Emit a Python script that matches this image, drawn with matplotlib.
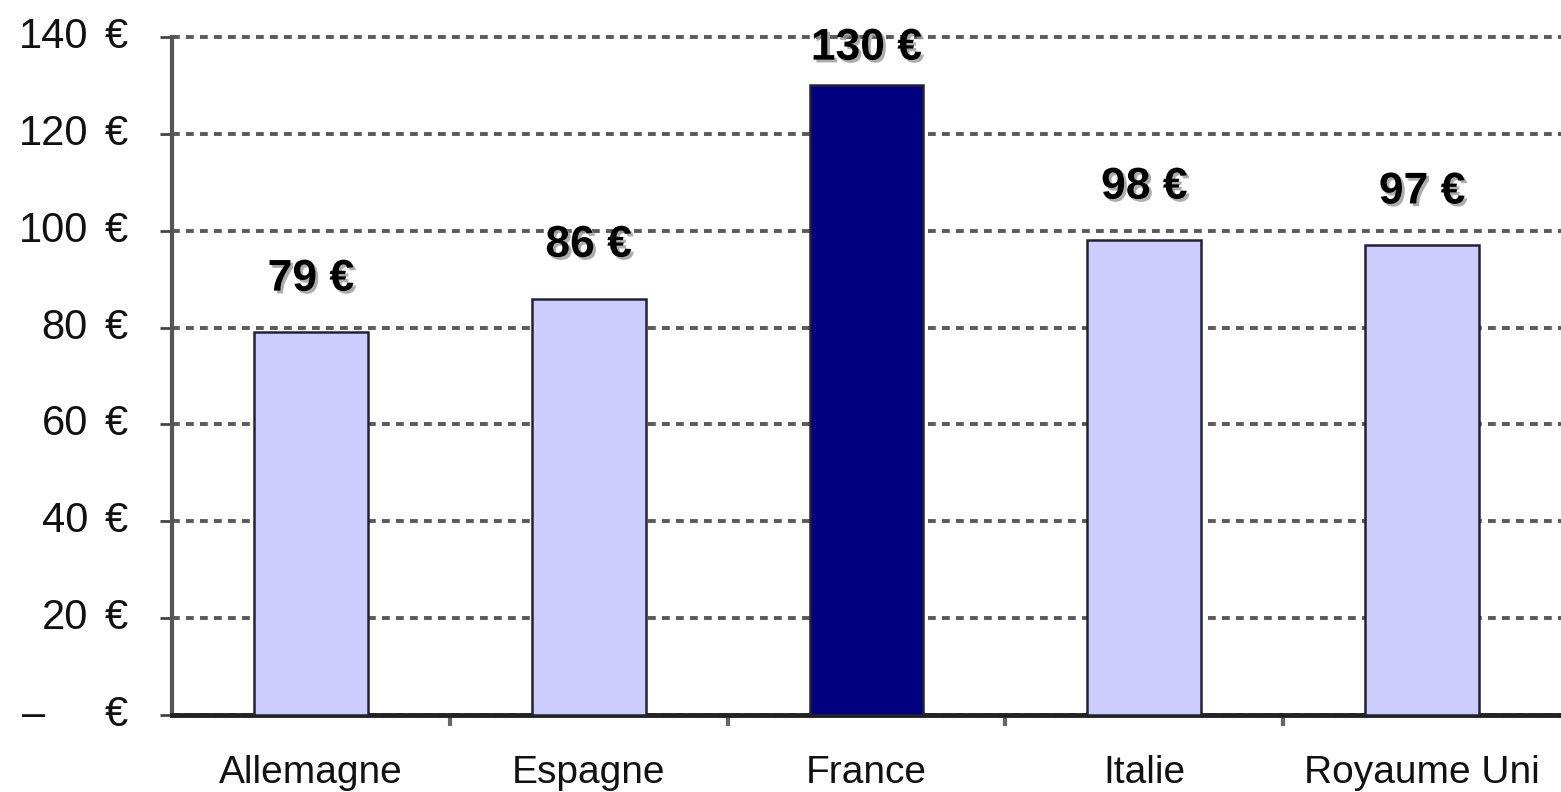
import matplotlib
matplotlib.use("Agg")
import matplotlib.pyplot as plt
import matplotlib.transforms as mtransforms
import matplotlib.patheffects as pe

plt.rcParams["font.family"] = ["Liberation Sans", "DejaVu Sans"]

countries = ["Allemagne", "Espagne", "France", "Italie", "Royaume Uni"]
prices = [79, 86, 130, 98, 97]
bar_colors = ["#ccccff", "#ccccff", "#000080", "#ccccff", "#ccccff"]
yticks = [0, 20, 40, 60, 80, 100, 120, 140]

fig = plt.figure(figsize=(15.61, 7.92), dpi=100)
ax = fig.add_axes([172 / 1561, 1 - 715 / 792, 1 - 172 / 1561, (715 - 37) / 792])

x = list(range(len(countries)))
ax.bar(x, prices, width=0.41, color=bar_colors, edgecolor="#222233", linewidth=1.8, zorder=3)

ax.set_xlim(-0.5, len(countries) - 0.5)
ax.set_ylim(0, 140)

# grid
ax.set_yticks(yticks)
ax.yaxis.grid(True, color="#5a5a5a", linewidth=2.8, linestyle=(0, (2.0, 1.6)), zorder=1)
ax.set_axisbelow(True)
for gl in ax.get_ygridlines():
    gl.set_clip_on(False)

# y labels: accounting style, number then euro sign
ax.set_yticklabels([])
ax.tick_params(axis="y", direction="out", length=9, width=2, color="#444444")
tr = mtransforms.blended_transform_factory(ax.transAxes, ax.transData)
for v in yticks:
    if v == 0:
        ax.text(-0.108, v, "–", transform=tr, ha="left", va="center", fontsize=30, color="#111111")
    else:
        ax.text(-0.0605, v, str(v), transform=tr, ha="right", va="center", fontsize=30, color="#111111")
    ax.text(-0.0485, v, "€", transform=tr, ha="left", va="center", fontsize=30, color="#111111")

# x axis: ticks at category boundaries, labels at centers
ax.set_xticks([i + 0.5 for i in x[:-1]])
ax.set_xticklabels([])
ax.set_xticks(x, minor=True)
ax.set_xticklabels(countries, minor=True, fontsize=28, color="#111111")
ax.tick_params(axis="x", which="major", direction="out", length=8, width=3, color="#666666")
ax.tick_params(axis="x", which="minor", length=0, pad=29)

for side in ["top", "right"]:
    ax.spines[side].set_visible(False)
ax.spines["left"].set_color("#555555")
ax.spines["left"].set_linewidth(3)
ax.spines["bottom"].set_color("#222222")
ax.spines["bottom"].set_linewidth(3.5)

# value labels
for i, v in enumerate(prices):
    ax.text(i, min(v + 11, 137.7), f"{v} €", ha="center", va="center", fontsize=32,
            fontweight="bold", color="#000000", zorder=5,
            path_effects=[pe.withSimplePatchShadow(offset=(2, -2), shadow_rgbFace="#999999", alpha=0.8)])

fig.savefig("out.png", dpi=100)
